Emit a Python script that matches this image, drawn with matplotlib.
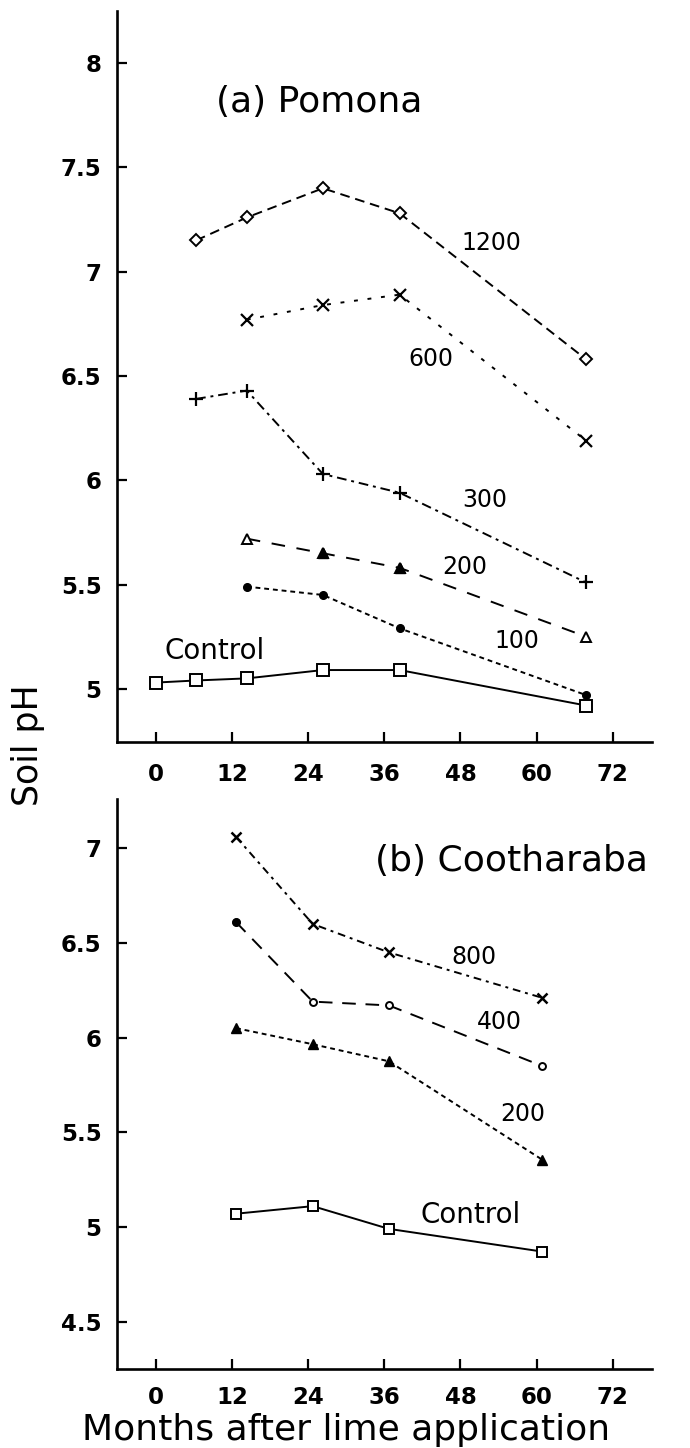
import matplotlib
matplotlib.use("Agg")
import matplotlib.pyplot as plt

plt.rcParams['font.family'] = ['DejaVu Sans']

# ---------------- data: (a) Pomona ----------------
pom_m_1200 = [6.3, 14.3, 26.3, 38.4, 67.8]
pom_ph_1200 = [7.15, 7.26, 7.40, 7.28, 6.58]
pom_m_600 = [14.3, 26.3, 38.4, 67.8]
pom_ph_600 = [6.77, 6.84, 6.89, 6.19]
pom_m_300 = [6.3, 14.3, 26.3, 38.4, 67.8]
pom_ph_300 = [6.39, 6.43, 6.03, 5.94, 5.51]
pom_m_200 = [14.3, 26.3, 38.4, 67.8]
pom_ph_200 = [5.72, 5.65, 5.58, 5.25]
pom_m_100 = [14.3, 26.3, 38.4, 67.8]
pom_ph_100 = [5.49, 5.45, 5.29, 4.97]
pom_m_ctrl = [0, 6.3, 14.3, 26.3, 38.4, 67.8]
pom_ph_ctrl = [5.03, 5.04, 5.05, 5.09, 5.09, 4.92]

# ---------------- data: (b) Cootharaba ----------------
coo_m = [12.6, 24.7, 36.7, 60.9]
coo_ph_800 = [7.06, 6.60, 6.45, 6.21]
coo_ph_400 = [6.61, 6.19, 6.17, 5.85]
coo_ph_200 = [6.05, 5.965, 5.875, 5.355]
coo_ph_ctrl = [5.07, 5.11, 4.99, 4.87]

x_ticks = [0, 12, 24, 36, 48, 60, 72]
pom_yticks = [5, 5.5, 6, 6.5, 7, 7.5, 8]
coo_yticks = [4.5, 5, 5.5, 6, 6.5, 7]

# labels: (text, month, pH)
pom_labels = [("1200", 52.9, 7.14), ("600", 43.3, 6.58), ("300", 51.8, 5.905),
              ("200", 48.7, 5.586), ("100", 56.9, 5.228), ("Control", 9.3, 5.18)]
coo_labels = [("800", 50.1, 6.425), ("400", 54.1, 6.084), ("200", 57.8, 5.596),
              ("Control", 49.6, 5.063)]

fig = plt.figure(figsize=(6.9, 14.48), dpi=100)
L, W = 116.8 / 690, (652 - 116.8) / 690
ax1 = fig.add_axes([L, 1 - 742 / 1448, W, (742 - 11) / 1448])
ax2 = fig.add_axes([L, 1 - 1369 / 1448, W, (1369 - 799) / 1448])

lw = 1.4
k = 'black'

def style(ax, yt, ylim, xpad):
    ax.set_xlim(-6.2, 78.2)
    ax.set_ylim(*ylim)
    ax.set_xticks(x_ticks)
    ax.set_xticklabels([str(v) for v in x_ticks])
    ax.set_yticks(yt)
    ax.set_yticklabels([('%g' % v) for v in yt])
    for s in ['top', 'right']:
        ax.spines[s].set_visible(False)
    for s in ['left', 'bottom']:
        ax.spines[s].set_linewidth(1.9)
    ax.tick_params(direction='in', length=7, width=1.6, labelsize=16.5)
    ax.tick_params(axis='x', pad=xpad)
    ax.tick_params(axis='y', pad=11)
    for t in ax.get_xticklabels() + ax.get_yticklabels():
        t.set_fontweight('semibold')

def lab(ax, t, x, y):
    fs = 20 if t == "Control" else 17
    ax.text(x, y, t, fontsize=fs, ha='center', va='center')

# ---- panel (a)
ax1.plot(pom_m_1200, pom_ph_1200, color=k, lw=lw, dashes=(5, 3),
         marker='D', ms=6, mfc='white', mec=k, mew=1.4)
ax1.plot(pom_m_600, pom_ph_600, color=k, lw=lw, dashes=(2, 5),
         marker='x', ms=8, mec=k, mew=1.6)
ax1.plot(pom_m_300, pom_ph_300, color=k, lw=lw, dashes=(5, 2.5, 1.5, 2.5),
         marker='+', ms=10, mec=k, mew=1.6)
ax1.plot(pom_m_200, pom_ph_200, color=k, lw=lw, dashes=(7, 6),
         marker='^', ms=7, mfc='white', mec=k, mew=1.4)
ax1.plot(pom_m_200[1:3], pom_ph_200[1:3], ls='none',
         marker='^', ms=7, mfc=k, mec=k)
ax1.plot(pom_m_100, pom_ph_100, color=k, lw=lw, dashes=(2.5, 2),
         marker='o', ms=5.5, mfc=k, mec=k)
ax1.plot(pom_m_ctrl, pom_ph_ctrl, color=k, lw=lw, ls='-',
         marker='s', ms=8, mfc='white', mec=k, mew=1.4)
style(ax1, pom_yticks, (4.745, 8.25), 15)
for t, x, y in pom_labels:
    lab(ax1, t, x, y)
ax1.text(25.7, 7.816, "(a) Pomona", fontsize=26, ha='center', va='center')

# ---- panel (b)
ax2.plot(coo_m, coo_ph_800, color=k, lw=lw, dashes=(4, 2.5, 1.5, 2.5),
         marker='x', ms=7, mec=k, mew=1.8)
ax2.plot(coo_m, coo_ph_400, color=k, lw=lw, dashes=(7, 5),
         marker='o', ms=5, mfc='white', mec=k, mew=1.4)
ax2.plot(coo_m[:1], coo_ph_400[:1], ls='none', marker='o', ms=5, mfc=k, mec=k)
ax2.plot(coo_m, coo_ph_200, color=k, lw=lw, dashes=(2.5, 2),
         marker='^', ms=6.5, mfc=k, mec=k)
ax2.plot(coo_m, coo_ph_ctrl, color=k, lw=lw, ls='-',
         marker='s', ms=6.5, mfc='white', mec=k, mew=1.4)
style(ax2, coo_yticks, (4.25, 7.26), 12)
for t, x, y in coo_labels:
    lab(ax2, t, x, y)
ax2.text(56.1, 6.93, "(b) Cootharaba", fontsize=26, ha='center', va='center',
         clip_on=False)

fig.text(28 / 690, 1 - 745 / 1448, "Soil pH", rotation=90, fontsize=25,
         ha='center', va='center')
fig.text(346 / 690, 1 - 1440 / 1448, "Months after lime application",
         fontsize=26, ha='center', va='baseline')

fig.savefig("out.png", dpi=100)
